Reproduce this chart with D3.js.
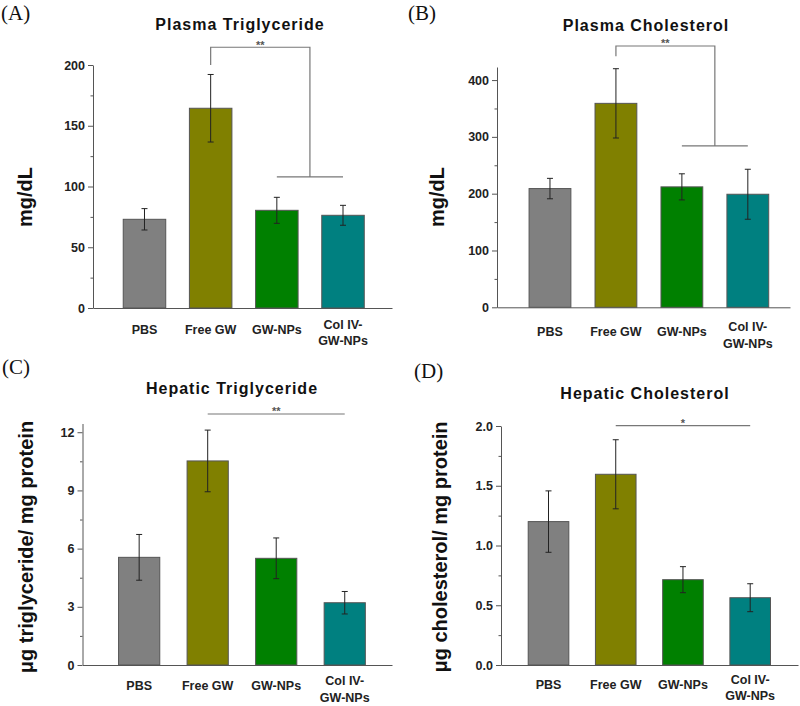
<!DOCTYPE html>
<html>
<head>
<meta charset="utf-8">
<script src="https://cdn.jsdelivr.net/npm/d3@7"></script>
<style>
  html, body { margin: 0; padding: 0; background: #fff; }
  svg { display: block; }
</style>
</head>
<body>
<svg id="chart" width="800" height="706"></svg>
<script>
// ---------------- DATA ----------------
const categories = ["PBS", "Free GW", "GW-NPs", "Col IV-\nGW-NPs"];
const barColors = ["#808080", "#808000", "#008000", "#008080"];

const plasmaTGMean = [73, 164.4, 80.4, 76.3];
const plasmaTGErr  = [8.8, 27.8, 10.7, 8.2];
const plasmaTGTicks = [0, 50, 100, 150, 200];

const plasmaCholMean = [209, 359, 212, 199];
const plasmaCholErr  = [18, 61, 23, 44];
const plasmaCholTicks = [0, 100, 200, 300, 400];

const hepaticTGMean = [5.55, 10.52, 5.5, 3.21];
const hepaticTGErr  = [1.18, 1.59, 1.05, 0.58];
const hepaticTGTicks = [0, 3, 6, 9, 12];

const hepaticCholMean = [1.2, 1.596, 0.714, 0.563];
const hepaticCholErr  = [0.257, 0.289, 0.109, 0.117];
const hepaticCholTicks = [0, 0.5, 1.0, 1.5, 2.0];

const panelLetters = ["(A)", "(B)", "(C)", "(D)"];
const panelTitles = ["Plasma Triglyceride", "Plasma Cholesterol", "Hepatic Triglyceride", "Hepatic Cholesterol"];
const yLabels = ["mg/dL", "mg/dL", "\u03bcg triglyceride/ mg protein", "\u03bcg cholesterol/ mg protein"];
const sigLabels = ["**", "**", "**", "*"];

// ---------------- LAYOUT ----------------
const panels = [
  { mean: plasmaTGMean, err: plasmaTGErr, ticks: plasmaTGTicks, fmt: d3.format("d"),
    axisX: 93, xEnd: 392, y0: 308, yMax: 200, yMaxPx: 65,
    band: [111.4, 376.1], bw: 42.5, xlabOff: 25.5,
    letter: [1, 20], title: [240, 30], ylab: [25, 197],
    sig: { type: "bracket", from: 1, to: [2, 3], startV: 200, topV: 214.6, lowV: 108 } },
  { mean: plasmaCholMean, err: plasmaCholErr, ticks: plasmaCholTicks, fmt: d3.format("d"),
    axisX: 497, xEnd: 790, y0: 307.3, yMax: 423, yMaxPx: 67,
    band: [517, 780.8], bw: 41.8, xlabOff: 29,
    letter: [408, 20], title: [646, 31], ylab: [437, 197],
    sig: { type: "bracket", from: 1, to: [2, 3], startV: 442, topV: 460, lowV: 284 } },
  { mean: hepaticTGMean, err: hepaticTGErr, ticks: hepaticTGTicks, fmt: d3.format("d"),
    axisX: 82.5, xEnd: 392, y0: 665, yMax: 12.45, yMaxPx: 423.5,
    band: [104.9, 379], bw: 41.2, xlabOff: 25,
    letter: [2, 374], title: [232, 394], ylab: [26, 547],
    sig: { type: "line", from: 1, to: 3, v: 12.94 } },
  { mean: hepaticCholMean, err: hepaticCholErr, ticks: hepaticCholTicks, fmt: d3.format(".1f"),
    axisX: 501, xEnd: 798, y0: 665, yMax: 2.0, yMaxPx: 426,
    band: [514.9, 783.8], bw: 40.6, xlabOff: 23.5,
    letter: [414, 378], title: [645, 399], ylab: [440, 547],
    sig: { type: "line", from: 1, to: 3, v: 2.003 } }
];

const svg = d3.select("#chart");
const FONT = "Arial, 'Liberation Sans', Helvetica, sans-serif";

panels.forEach((p, pi) => {
  const g = svg.append("g");
  const y = d3.scaleLinear().domain([0, p.yMax]).range([p.y0, p.yMaxPx]);
  const step = (p.band[1] - p.band[0]) / categories.length;
  const pad = 1 - p.bw / step;
  const x = d3.scaleBand().domain(categories).range(p.band).paddingInner(pad).paddingOuter(pad / 2);
  const cx = i => x(categories[i]) + x.bandwidth() / 2;

  // minor ticks
  const majorStep = p.ticks[1] - p.ticks[0];
  const minors = p.ticks.slice(0, -1).map(t => t + majorStep / 2).filter(t => t <= p.yMax);
  const minorAxis = d3.axisLeft(y).tickValues(minors).tickSize(2.5).tickFormat("").tickSizeOuter(0);
  const gm = g.append("g").attr("transform", `translate(${p.axisX},0)`).call(minorAxis);
  gm.select(".domain").remove();
  gm.selectAll("line").attr("stroke", "#555");

  // y axis major
  const yAxis = d3.axisLeft(y).tickValues(p.ticks).tickFormat(p.fmt).tickSize(5).tickPadding(3).tickSizeOuter(0);
  const gy = g.append("g").attr("transform", `translate(${p.axisX},0)`).call(yAxis);
  gy.select(".domain").attr("stroke", "#555");
  gy.selectAll(".tick line").attr("stroke", "#555");
  gy.selectAll(".tick text").attr("font-family", FONT).attr("font-size", 12.5)
    .attr("font-weight", "bold").attr("fill", "#222");

  // x axis line
  const xl = d3.scaleLinear().domain([0, 1]).range([p.axisX, p.xEnd]);
  const xAxis = d3.axisBottom(xl).tickValues([]).tickSizeOuter(0);
  g.append("g").attr("transform", `translate(0,${p.y0})`).call(xAxis)
    .select(".domain").attr("stroke", "#555");

  // bars
  g.selectAll("rect.bar").data(p.mean).enter().append("rect")
    .attr("class", "bar")
    .attr("x", (d, i) => x(categories[i]))
    .attr("width", x.bandwidth())
    .attr("y", d => y(d))
    .attr("height", d => y(0) - y(d))
    .attr("fill", (d, i) => barColors[i])
    .attr("stroke", "#555").attr("stroke-width", 1);

  // error bars
  const eb = g.selectAll("g.err").data(p.mean).enter().append("g").attr("class", "err")
    .attr("stroke", "#222").attr("stroke-width", 1);
  eb.append("line").attr("x1", (d, i) => cx(i)).attr("x2", (d, i) => cx(i))
    .attr("y1", (d, i) => y(d + p.err[i])).attr("y2", (d, i) => y(d - p.err[i]));
  eb.append("line").attr("x1", (d, i) => cx(i) - 3).attr("x2", (d, i) => cx(i) + 3)
    .attr("y1", (d, i) => y(d + p.err[i])).attr("y2", (d, i) => y(d + p.err[i]));
  eb.append("line").attr("x1", (d, i) => cx(i) - 3).attr("x2", (d, i) => cx(i) + 3)
    .attr("y1", (d, i) => y(d - p.err[i])).attr("y2", (d, i) => y(d - p.err[i]));

  // x labels
  categories.forEach((c, i) => {
    const lines = c.split("\n");
    const t = g.append("text").attr("text-anchor", "middle")
      .attr("font-family", FONT).attr("font-size", 12.5).attr("font-weight", "bold").attr("fill", "#222");
    if (lines.length === 1) {
      t.append("tspan").attr("x", cx(i)).attr("y", p.y0 + p.xlabOff).text(lines[0]);
    } else {
      lines.forEach((ln, k) => {
        t.append("tspan").attr("x", cx(i)).attr("y", p.y0 + p.xlabOff - 5 + k * 16.5).text(ln);
      });
    }
  });

  // significance
  const s = p.sig;
  let starX, starY;
  if (s.type === "bracket") {
    const xa = cx(s.from);
    const xb1 = cx(s.to[0]), xb2 = cx(s.to[1]);
    const xm = (xb1 + xb2) / 2;
    const path = d3.path();
    path.moveTo(xa, y(s.startV));
    path.lineTo(xa, y(s.topV));
    path.lineTo(xm, y(s.topV));
    path.lineTo(xm, y(s.lowV));
    path.moveTo(xb1, y(s.lowV));
    path.lineTo(xb2, y(s.lowV));
    g.append("path").attr("d", path.toString()).attr("fill", "none")
      .attr("stroke", "#777").attr("stroke-width", 1.2);
    starX = (xa + xm) / 2; starY = y(s.topV) - 1.5;
  } else {
    const xa = cx(s.from), xb = cx(s.to);
    g.append("line").attr("x1", xa).attr("x2", xb).attr("y1", y(s.v)).attr("y2", y(s.v))
      .attr("stroke", "#777").attr("stroke-width", 1.2);
    starX = (xa + xb) / 2; starY = y(s.v) - 1.5;
  }
  g.append("text").attr("x", starX).attr("y", starY + 3).attr("text-anchor", "middle")
    .attr("font-family", FONT).attr("font-size", 11).attr("font-weight", "bold").attr("fill", "#555")
    .text(sigLabels[pi]);

  // title
  g.append("text").attr("x", p.title[0]).attr("y", p.title[1]).attr("text-anchor", "middle")
    .attr("font-family", FONT).attr("font-size", 16).attr("font-weight", "bold")
    .attr("letter-spacing", "1px").attr("fill", "#111").text(panelTitles[pi]);

  // panel letter
  g.append("text").attr("x", p.letter[0]).attr("y", p.letter[1])
    .attr("font-family", "'Liberation Serif', 'Times New Roman', serif").attr("font-size", 21)
    .attr("fill", "#111").text(panelLetters[pi]);

  // y label
  g.append("text").attr("transform", `translate(${p.ylab[0]},${p.ylab[1]}) rotate(-90)`)
    .attr("text-anchor", "middle").attr("dominant-baseline", "central")
    .attr("font-family", FONT).attr("font-size", 20).attr("font-weight", "bold").attr("fill", "#111")
    .text(yLabels[pi]);
});
</script>
</body>
</html>
